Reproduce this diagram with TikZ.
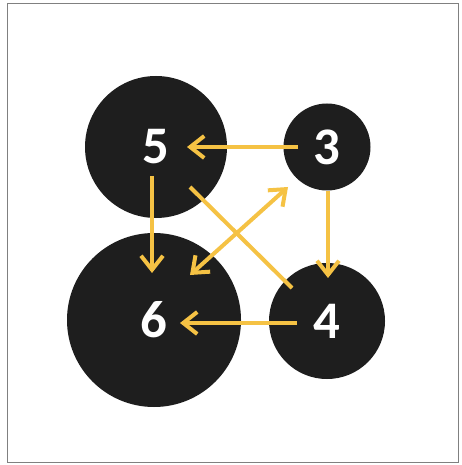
\documentclass[tikz,border=0pt]{standalone}
\usepackage{fontspec}
\setmainfont{Carlito}
\usetikzlibrary{arrows.meta,calc}
\definecolor{arrowyellow}{HTML}{F5C244}
\definecolor{disc}{HTML}{1E1E1E}
\definecolor{frame}{HTML}{808080}
\tikzset{
  discnode/.style={circle,fill=disc,draw=none,text=white,inner sep=0pt,
    font=\fontsize{53}{53}\selectfont\bfseries},
  link/.style={draw=arrowyellow,line width=4bp},
  tip/.style={-{Straight Barb[length=14bp,width=22bp,line width=4bp]}},
  bitip/.style={{Straight Barb[length=14bp,width=22bp,line width=4bp]}-{Straight Barb[length=14bp,width=22bp,line width=4bp]}}
}
\begin{document}
\begin{tikzpicture}[x=1bp,y=-1bp]
\useasboundingbox (0,0) rectangle (462,465);
\fill[white] (0,0) rectangle (462,465);
\draw[frame,line width=1.2bp] (7.5,3.5) rectangle (458.5,462.5);
\node[discnode,minimum size=142bp] (n5) at (156,147) {5};
\node[discnode,minimum size=87bp] (n3) at (327,147) {3};
\node[discnode,minimum size=174bp] (n6) at (154,320) {6};
\node[discnode,minimum size=116bp] (n4) at (327,321) {4};
% arrow end points
\coordinate (a3s) at ($(n3)+(-29,0)$);
\coordinate (a5e) at ($(n5)+(31,0)$);
\coordinate (b5s) at ($(n5)+(-4,29)$);
\coordinate (b6e) at ($(n6)+(-2,-47)$);
\coordinate (c3s) at ($(n3)+(1,44)$);
\coordinate (c4e) at ($(n4)+(1,-43)$);
\coordinate (d4s) at ($(n4)+(-30,2)$);
\coordinate (d6e) at ($(n6)+(26,3)$);
\coordinate (e5s) at ($(n5)+(34,40)$);
\coordinate (e4e) at ($(n4)+(-35,-33)$);
\coordinate (f6e) at ($(n6)+(36,-45)$);
\coordinate (f3e) at ($(n3)+(-39,40)$);
\draw[link,tip] (a3s) -- (a5e);
\draw[link,tip] (b5s) -- (b6e);
\draw[link,tip] (c3s) -- (c4e);
\draw[link,tip] (d4s) -- (d6e);
\draw[link] (e5s) -- (e4e);
\draw[link,bitip] (f6e) -- (f3e);
\end{tikzpicture}
\end{document}
